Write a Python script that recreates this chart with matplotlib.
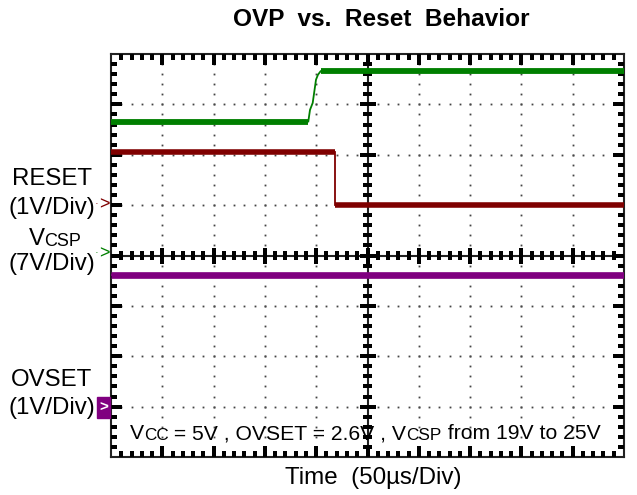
import matplotlib
matplotlib.use("Agg")
import matplotlib.pyplot as plt
import numpy as np
from matplotlib.patches import Rectangle
from matplotlib.collections import LineCollection

plt.rcParams['font.family'] = ['Liberation Sans', 'DejaVu Sans']

# ---- data (in screen divisions: x 0..10, y 0..8) ----
vcsp_t = [0, 3.846, 3.879, 3.932, 3.996, 4.035, 4.088, 10]
vcsp_v = [6.66, 6.66, 6.89, 7.03, 7.49, 7.59, 7.66, 7.66]

reset_t = [0, 4.367, 4.367, 10]
reset_v = [6.06, 6.06, 5.00, 5.00]

ovset_t = [0, 10]
ovset_v = [3.62, 3.62]

title = "OVP  vs.  Reset  Behavior"
xlabel = "Time  (50\u00b5s/Div)"
# note as runs: (text, is_subscript)
note_runs = [("V", False), ("CC", True), (" = 5V , OVSET = 2.6V , V", False),
             ("CSP", True), (" from 19V to 25V", False)]

W, H = 637, 495
fig = plt.figure(figsize=(W / 100, H / 100), dpi=100)
L, R, T, B = 111, 624, 54, 457
ax = fig.add_axes([L / W, 1 - B / H, (R - L) / W, (B - T) / H])
ax.set_xlim(0, 10)
ax.set_ylim(0, 8)
ax.set_xticks([])
ax.set_yticks([])

frame_col = '#000000'
for s in ax.spines.values():
    s.set_color('#222222')
    s.set_linewidth(1.5)

xpx = 10 / (R - L)   # data units per pixel
ypx = 8 / (B - T)

minor_x = np.round(np.arange(0, 10.01, 0.2), 6)
minor_y = np.round(np.arange(0, 8.01, 0.2), 6)

# dotted grid
for gx in range(1, 10):
    if gx == 5:
        continue
    ax.plot(np.full_like(minor_y, gx), minor_y, linestyle='none', marker='s',
            markersize=1.3, color='#444444', markeredgewidth=0)
for gy in range(1, 8):
    if gy == 4:
        continue
    ax.plot(minor_x, np.full_like(minor_x, gy), linestyle='none', marker='s',
            markersize=1.3, color='#444444', markeredgewidth=0)

# center crosshair
ax.axhline(4, color='#222222', lw=1.5)
ax.axvline(5, color='#222222', lw=1.5)

segs = []
for xv in minor_x[1:-1]:
    major = abs(xv - round(xv)) < 1e-6
    le = 11 if major else 6
    segs.append([(xv, 0), (xv, le * ypx)])
    segs.append([(xv, 8), (xv, 8 - le * ypx)])
    c = 8 if major else 4.5
    segs.append([(xv, 4 - c * ypx), (xv, 4 + c * ypx)])
for yv in minor_y[1:-1]:
    major = abs(yv - round(yv)) < 1e-6
    le = 11 if major else 6
    segs.append([(0, yv), (le * xpx, yv)])
    segs.append([(10, yv), (10 - le * xpx, yv)])
    c = 8 if major else 4.5
    segs.append([(5 - c * xpx, yv), (5 + c * xpx, yv)])
ax.add_collection(LineCollection(segs, colors=frame_col, linewidths=1.5,
                                 capstyle='butt', antialiaseds=False,
                                 zorder=3))


def trace(t, v, color, thick):
    ax.plot(t, v, color=color, lw=1.3, solid_joinstyle='miter', zorder=5)
    for i in range(len(t) - 1):
        if v[i] == v[i + 1] and t[i + 1] > t[i]:
            ax.plot([t[i], t[i + 1]], [v[i], v[i + 1]], color=color, lw=thick,
                    solid_capstyle='butt', zorder=5)


green = '#007f00'
red = '#7f0000'
purple = '#800080'
trace(vcsp_t, vcsp_v, green, 4.2)
trace(reset_t, reset_v, red, 4.0)
trace(ovset_t, ovset_v, purple, 4.8)

# titles
fig.text(381 / W, 1 - 20 / H, title, ha='center', va='center',
         fontsize=17.6, fontweight='bold')
fig.text(373 / W, 1 - 478 / H, xlabel, ha='center', va='center', fontsize=17.4)

renderer = fig.canvas.get_renderer()


def runs_text(cx_px, base_px, runs, fs, sfs):
    widths = []
    for txt, sub in runs:
        t = fig.text(0, 0, txt, fontsize=sfs if sub else fs)
        widths.append(t.get_window_extent(renderer).width)
        t.remove()
    x = cx_px - sum(widths) / 2
    for (txt, sub), w in zip(runs, widths):
        fig.text(x / W, 1 - (base_px + (1.5 if sub else 0)) / H, txt,
                 fontsize=sfs if sub else fs, va='baseline', ha='left')
        x += w


runs_text((131 + 599) / 2, 439, note_runs, 15.2, 12.3)

# left labels
lab_fs = 17.3
fig.text(52 / W, 1 - 179 / H, "RESET", ha='center', va='center', fontsize=lab_fs)
fig.text(52 / W, 1 - 208 / H, "(1V/Div)", ha='center', va='center', fontsize=lab_fs)
runs_text(55, 245, [("V", False), ("CSP", True)], lab_fs, 13)
fig.text(52 / W, 1 - 264 / H, "(7V/Div)", ha='center', va='center', fontsize=lab_fs)
fig.text(52 / W, 1 - 380 / H, "OVSET", ha='center', va='center', fontsize=lab_fs)
fig.text(52 / W, 1 - 408 / H, "(1V/Div)", ha='center', va='center', fontsize=lab_fs)

# channel markers
fig.text(104.5 / W, 1 - 205 / H, ">", ha='center', va='center', fontsize=13, color=red)
fig.text(97 / W, 1 - 204 / H, "\u00b7", ha='center', va='center', fontsize=8, color=red)
fig.text(104.5 / W, 1 - 254 / H, ">", ha='center', va='center', fontsize=13, color=green)
fig.text(97 / W, 1 - 253 / H, "\u00b7", ha='center', va='center', fontsize=8, color=green)
fig.patches.append(Rectangle((97 / W, 1 - 418 / H), 13 / W, 21 / H,
                             transform=fig.transFigure, color=purple))
fig.text(103.5 / W, 1 - 407.5 / H, ">", ha='center', va='center', fontsize=11,
         color='white', fontweight='bold')

fig.savefig("out.png", dpi=100)
